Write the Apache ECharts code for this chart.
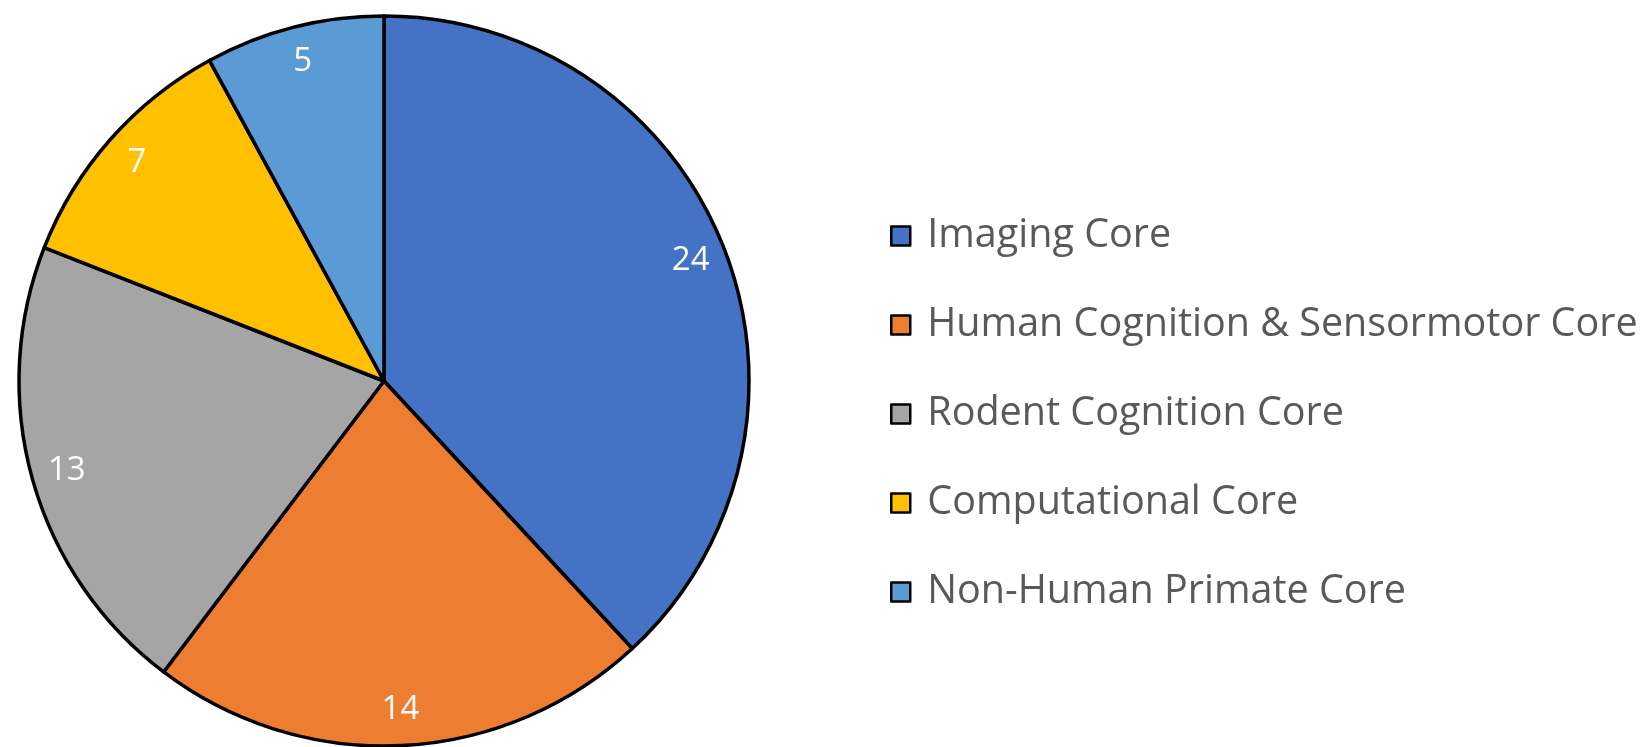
<!DOCTYPE html>
<html>
<head>
<meta charset="utf-8">
<script src="https://cdn.jsdelivr.net/npm/echarts@6/dist/echarts.min.js"></script>
<style>html,body{margin:0;padding:0;background:#fff;}#c{width:1645px;height:747px;}</style>
</head>
<body>
<div id="c"></div>
<script>
const categories = ['Imaging Core', 'Human Cognition & Sensormotor Core', 'Rodent Cognition Core', 'Computational Core', 'Non-Human Primate Core'];
const values = [24, 14, 13, 7, 5];
const colors = ['#4472C4', '#ED7D31', '#A5A5A5', '#FFC000', '#5B9BD5'];

const data = categories.map((n, i) => ({ name: n, value: values[i], itemStyle: { color: colors[i] } }));
const labelData = categories.map((n, i) => ({ name: n, value: values[i] }));

const chart = echarts.init(document.getElementById('c'), null, { renderer: 'canvas' });
chart.setOption({
  backgroundColor: '#fff',
  animation: false,
  legend: {
    orient: 'vertical',
    left: 885,
    top: 211,
    itemWidth: 19,
    itemHeight: 19,
    itemGap: 49,
    icon: 'rect',
    data: categories,
    itemStyle: { borderColor: '#000', borderWidth: 2.5 },
    textStyle: { fontFamily: 'Open Sans', fontSize: 39.5, color: '#595959', lineHeight: 40, padding: [0, 0, 0, 12] },
    selectedMode: false
  },
  series: [
    {
      type: 'pie',
      center: [384, 381],
      radius: [0, 365],
      startAngle: 90,
      clockwise: true,
      data: data,
      label: { show: false },
      labelLine: { show: false },
      itemStyle: { borderColor: '#000', borderWidth: 3.5 },
      emphasis: { disabled: true },
      silent: true
    },
    {
      type: 'pie',
      center: [384, 381],
      radius: [288, 365],
      startAngle: 90,
      clockwise: true,
      data: labelData,
      itemStyle: { color: 'rgba(0,0,0,0)', borderWidth: 0 },
      label: { show: true, position: 'inside', formatter: '{c}', color: '#fff', fontFamily: 'Open Sans', fontSize: 33 },
      labelLine: { show: false },
      emphasis: { disabled: true },
      silent: true,
      z: 3
    }
  ]
});
</script>
</body>
</html>
